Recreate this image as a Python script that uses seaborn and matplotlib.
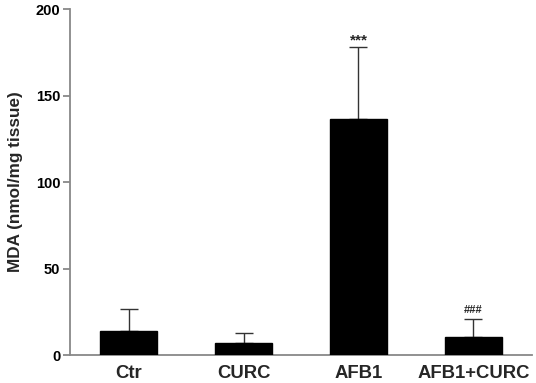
import numpy as np
import pandas as pd
import seaborn as sns
import matplotlib.pyplot as plt

groups = ['Ctr', 'CURC', 'AFB1', 'AFB1+CURC']
mda_mean = [13.9, 6.8, 136.6, 10.6]
mda_sd = [12.8, 6.2, 41.5, 10.3]
marks = ['', '', '***', '###']
mark_size = [0, 0, 11, 8]
mark_gap = [0, 0, 1.4, 3.5]

df = pd.DataFrame({'group': groups, 'mda': mda_mean})

sns.set_style('ticks')
plt.rcParams['font.family'] = ['Liberation Sans', 'DejaVu Sans']
plt.rcParams['font.weight'] = 'bold'

fig = plt.figure(figsize=(5.36, 3.83), dpi=100)
ax = fig.add_axes([0.1306, 0.0731, 0.862, 0.9034])

sns.barplot(data=df, x='group', y='mda', color='black', width=0.5,
            edgecolor='black', saturation=1, ax=ax, zorder=3)

x = np.arange(len(groups))
ax.errorbar(x, mda_mean, yerr=[np.zeros(len(groups)), mda_sd], fmt='none',
            ecolor='#333333', elinewidth=1.0, capsize=6.5, capthick=1.0, zorder=2)

for xi, m, s, t, fs, g in zip(x, mda_mean, mda_sd, marks, mark_size, mark_gap):
    if t:
        ax.text(xi, m + s + g, t, ha='center', va='baseline', fontsize=fs)

ax.set_xlim(-0.51, 3.51)
ax.set_ylim(0, 200)
ax.set_yticks([0, 50, 100, 150, 200])
ax.set_xlabel('')
ax.set_ylabel('MDA (nmol/mg tissue)', fontsize=12.3, fontweight='bold', labelpad=9)

for sp in ['top', 'right']:
    ax.spines[sp].set_visible(False)
for sp in ['left', 'bottom']:
    ax.spines[sp].set_color('#888888')
    ax.spines[sp].set_linewidth(1.3)

ax.tick_params(axis='y', colors='#888888', labelcolor='black', length=5,
               width=1.3, labelsize=10.5, pad=2)
ax.tick_params(axis='x', length=0, labelsize=13.3, pad=7)
for lbl in ax.get_xticklabels() + ax.get_yticklabels():
    lbl.set_fontweight('bold')

fig.savefig('out.png', dpi=100)
